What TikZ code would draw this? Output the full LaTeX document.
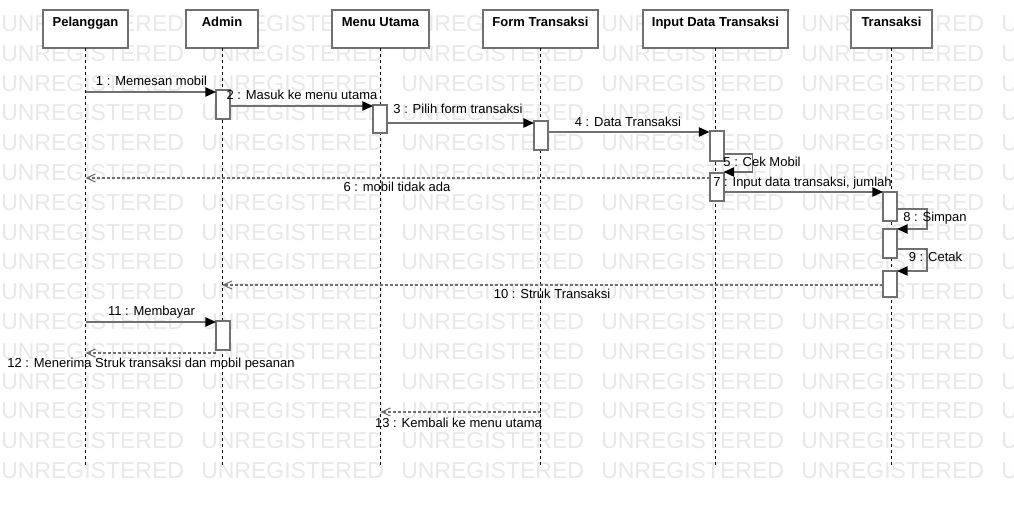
\documentclass[tikz,border=0pt]{standalone}
\usepackage{fontspec}
\setmainfont{Liberation Sans}
\usetikzlibrary{arrows.meta}
\definecolor{lg}{HTML}{707070}
\definecolor{wmc}{HTML}{E8E8E8}
\begin{document}
\begin{tikzpicture}[x=0.75pt,y=-0.75pt,
  wm/.style={text=wmc, font=\fontsize{17.25}{18}\selectfont, inner sep=0, anchor=base west},
  head/.style={draw=lg, line width=1.5pt, fill=white, inner sep=0, outer sep=0, anchor=north west, minimum height=28.5pt},
  htext/.style={font=\fontsize{9.75}{11}\selectfont\bfseries, inner sep=0, anchor=base},
  act/.style={draw=lg, line width=1.5pt, fill=white, inner sep=0, outer sep=0, anchor=north, minimum width=10.5pt},
  life/.style={black, line width=0.75pt, dash pattern=on 2.25pt off 2.25pt},
  msg/.style={lg, line width=1.1pt, -{Triangle[length=8pt,width=7pt,color=black]}},
  ret/.style={lg, line width=1.1pt, dash pattern=on 2.25pt off 1.5pt, -{Straight Barb[length=6.5pt,width=6pt,line width=0.8pt]}},
  lbl/.style={font=\fontsize{9.75}{11}\selectfont, inner sep=0, anchor=base},
]
\useasboundingbox[fill=white] (0,0) rectangle (1014,506);
% watermark
\foreach \r in {0,...,15}{
  \foreach \c in {0,...,5}{
    \node[wm] at ({1+200*\c},{31.5+29.8*\r}) {UNREGISTERED};
  }
}
% headers
\node[head, minimum width=63.75pt] (pel) at (43,10) {};
\node[head, minimum width=54pt] (adm) at (186,10) {};
\node[head, minimum width=72.75pt] (menu) at (332,10) {};
\node[head, minimum width=86.25pt] (form) at (483,10) {};
\node[head, minimum width=108.75pt] (inp) at (643,10) {};
\node[head, minimum width=60.75pt] (trs) at (851,10) {};
\node[htext] (pelt) at (pel.north |- 0,27) {Pelanggan};
\node[htext] (admt) at (adm.north |- 0,27) {Admin};
\node[htext] (menut) at (menu.north |- 0,27) {Menu Utama};
\node[htext] (formt) at (form.north |- 0,27) {Form Transaksi};
\node[htext] (inpt) at (inp.north |- 0,27) {Input Data Transaksi};
\node[htext] (trst) at (trs.north |- 0,27) {Transaksi};
% lifelines
\foreach \n in {pel,adm,menu,form,inp,trs}{
  \coordinate (\n E) at (\n.south |- 0,465);
  \draw[life] (\n.south) -- (\n E);
}
% activations
\node[act, minimum height=21.75pt] (a1) at (223,90) {};
\node[act, minimum height=21pt] (a2) at (380,105) {};
\node[act, minimum height=21.75pt] (a3) at (541,121) {};
\node[act, minimum height=22.5pt] (a4) at (716.5,131) {};
\node[act, minimum height=21pt] (a5) at (716.5,173) {};
\node[act, minimum height=21.75pt] (a6) at (890,192) {};
\node[act, minimum height=21.75pt] (a7) at (890,229) {};
\node[act, minimum height=19.5pt] (a8) at (890,271) {};
\node[act, minimum height=21.75pt] (a9) at (223,321) {};
% messages
\draw[msg] (pel.south |- 0,92) -- (a1.west |- 0,92);
\draw[msg] (a1.east |- 0,106) -- (a2.west |- 0,106);
\draw[msg] (a2.east |- 0,123) -- (a3.west |- 0,123);
\draw[msg] (a3.east |- 0,132) -- (a4.west |- 0,132);
\draw[msg] (a4.east |- 0,154) -- ++(29,0) |- (a5.east |- 0,172);
\draw[ret] (a5.west |- 0,178) -- (pel.south |- 0,178);
\draw[msg] (a5.east |- 0,192) -- (a6.west |- 0,192);
\draw[msg] (a6.east |- 0,209) -- ++(30,0) |- (a7.east |- 0,229);
\draw[msg] (a7.east |- 0,249) -- ++(30,0) |- (a8.east |- 0,271);
\draw[ret] (a8.west |- 0,285) -- (adm.south |- 0,285);
\draw[msg] (pel.south |- 0,322) -- (a9.west |- 0,322);
\draw[ret] (a9.west |- 0,353) -- (pel.south |- 0,353);
\draw[ret] (form.south |- 0,412) -- (menu.south |- 0,412);
% labels
\node[lbl] (l1) at (151.5,86) {1 : Memesan mobil};
\node[lbl] (l2) at (302,100) {2 : Masuk ke menu utama};
\node[lbl] (l3) at (458,114) {3 : Pilih form transaksi};
\node[lbl] (l4) at (628,127) {4 : Data Transaksi};
\node[lbl] (l5) at (762,167) {5 : Cek Mobil};
\node[lbl] (l6) at (397,192) {6 : mobil tidak ada};
\node[lbl] (l7) at (802.5,187) {7 : Input data transaksi, jumlah};
\node[lbl] (l8) at (935,222) {8 : Simpan};
\node[lbl] (l9) at (935.5,262) {9 : Cetak};
\node[lbl] (l10) at (552,298) {10 : Struk Transaksi};
\node[lbl] (l11) at (151.5,315) {11 : Membayar};
\node[lbl] (l12) at (151,367) {12 : Menerima Struk transaksi dan mobil pesanan};
\node[lbl] (l13) at (458.5,427) {13 : Kembali ke menu utama};
\end{tikzpicture}
\end{document}
